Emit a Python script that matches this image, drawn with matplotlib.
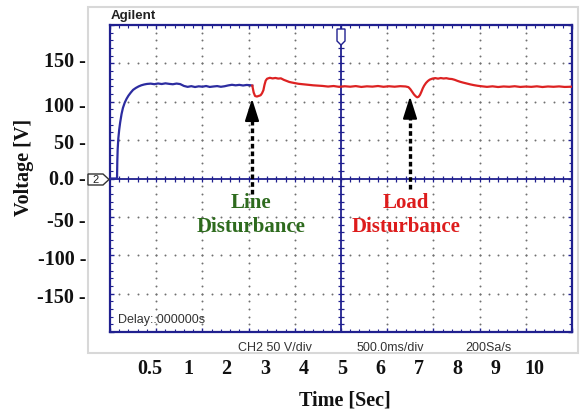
import matplotlib.pyplot as plt
import numpy as np
from matplotlib.patches import Rectangle, Polygon
from matplotlib.transforms import Affine2D

# output voltage trace, time in seconds, volts
blue_t = [0, 0.076, 0.079, 0.083, 0.09, 0.10, 0.11, 0.125, 0.14, 0.16, 0.18, 0.20,
          0.225, 0.25, 0.28, 0.31, 0.34, 0.37, 0.40,
          0.44, 0.48, 0.52, 0.56, 0.60, 0.64, 0.68, 0.72, 0.76,
          0.80, 0.84, 0.88, 0.92, 0.96, 1.00, 1.04, 1.08, 1.12, 1.16, 1.20, 1.24,
          1.28, 1.32, 1.36, 1.40, 1.44, 1.48, 1.52, 1.54]
blue_v = [0, 0, 22, 38, 52, 64, 73, 84, 92, 99, 104, 108,
          112, 115.5, 118, 120, 121.5, 122.5, 123.2,
          123.6, 122.9, 123.8, 123.1, 124.0, 123.3, 122.8, 123.7, 123.0,
          120.6, 119.4, 120.3, 119.2, 120.1, 119.6, 120.5, 119.3, 119.9, 120.4, 119.5, 120.2,
          121.3, 122.1, 121.4, 122.0, 121.2, 121.9, 121.5, 121.0]

red_t = [1.54, 1.555, 1.57, 1.59, 1.61, 1.63, 1.645, 1.66, 1.672, 1.685, 1.70,
         1.73, 1.76, 1.79, 1.82, 1.85, 1.88, 1.91, 1.94, 1.97, 2.00, 2.04, 2.08,
         2.12, 2.16, 2.20, 2.25, 2.30,
         2.36, 2.42, 2.48, 2.54, 2.60, 2.66, 2.72, 2.78, 2.84, 2.90, 2.96, 3.02,
         3.08, 3.14, 3.20,
         3.23, 3.25, 3.27, 3.29, 3.31, 3.325, 3.34, 3.355, 3.37, 3.385, 3.40, 3.42,
         3.44, 3.46, 3.49, 3.52, 3.55, 3.58, 3.61, 3.64, 3.67, 3.70, 3.73, 3.76,
         3.79, 3.82, 3.86, 3.90, 3.94, 3.98, 4.02,
         4.08, 4.14, 4.20, 4.26, 4.32, 4.38, 4.44, 4.50, 4.56, 4.62, 4.68, 4.74,
         4.80, 4.86, 4.92, 5.0]
red_v = [121, 112, 107.5, 106.8, 107.6, 108.5, 111, 115, 122, 127.5, 130,
         131.2, 130.4, 131.0, 130.2, 130.5, 128.6, 127.2, 125.8, 125.0, 124.3, 123.4, 122.9,
         122.4, 121.9, 121.4, 121.0, 120.6,
         119.8, 120.5, 119.4, 120.2, 119.6, 120.4, 119.3, 120.1, 119.7, 120.5, 119.5, 120.2,
         119.6, 120.3, 119.9,
         119.0, 116.5, 113.0, 109.5, 107.0, 105.8, 106.5, 109.0, 113.0, 117.5, 121.0, 124.5,
         127.0, 128.8, 130.2, 130.8, 130.1, 130.9, 130.3, 130.7, 129.9, 129.6, 128.6, 127.2,
         126.0, 125.0, 123.8, 122.6, 121.6, 120.8, 120.2,
         119.4, 120.1, 119.2, 119.9, 119.5, 120.2, 119.3, 119.8, 119.4, 120.1, 119.2, 119.9,
         119.5, 120.0, 119.3, 119.6]

# disturbance arrows: time, tip voltage, tail voltage
line_arrow = (1.537, 104, -20)
load_arrow = (3.247, 107, -14)

ytick_text = ['150', '100', '50', '0.0', '-50', '-100', '-150']
ytick_row = [62, 107, 144, 180, 222, 260, 298]
xtick_text = ['0.5', '1', '2', '3', '4', '5', '6', '7', '8', '9', '10']

W, H = 581, 410
navy = '#20208f'
serif = dict(family='Liberation Serif', weight='bold', size=14.5, color='#111111')
sans = dict(family='Liberation Sans', size=9, color='#333333')

fig = plt.figure(figsize=(W / 100, H / 100), dpi=100)
pix = Affine2D().scale(1 / W, -1 / H).translate(0, 1) + fig.transFigure

# background page with the scope window outline
bg = fig.add_axes([0, 0, 1, 1])
bg.set_xlim(0, W)
bg.set_ylim(H, 0)
bg.axis('off')
bg.add_patch(Rectangle((88, 8), 490, 346, facecolor='white', edgecolor='#d8d8d8', lw=1.5))
bg.text(111, 16, 'Agilent', family='Liberation Sans', weight='bold', size=9.6,
        color='#222222', va='center')
bg.text(238, 348, 'CH2 50 V/div', va='center', **sans)
bg.text(357, 348, '500.0ms/div', va='center', **sans)
bg.text(465, 348, '200Sa/s', va='center', **sans)

for lab, row in zip(ytick_text, ytick_row):
    bg.text(86, row, lab + ' -', ha='right', va='center', **serif)
step = (534 - 149.6) / 10
for i, lab in enumerate(xtick_text):
    bg.text(149.6 + i * step, 369, lab, ha='center', va='center', **serif)
bg.text(344.5, 401, 'Time [Sec]', ha='center', va='center', **serif)
bg.text(24, 167, 'Voltage [V]', ha='center', va='center', rotation=90, **serif)

# scope screen
ax = fig.add_axes([110 / W, 1 - 333 / H, 462 / W, 307 / H])
ax.set_xlim(0, 5)
ax.set_ylim(-200, 200)
for s in ax.spines.values():
    s.set_color(navy)
    s.set_linewidth(1.6)
ax.set_xticks(np.arange(0, 5.01, 0.5))
ax.set_yticks(np.arange(-200, 201, 50))
ax.set_xticks(np.arange(0, 5.01, 0.1), minor=True)
ax.set_yticks(np.arange(-200, 201, 10), minor=True)
ax.tick_params(which='both', direction='in', top=True, right=True, color=navy,
               labelbottom=False, labelleft=False)
ax.tick_params(which='major', length=3.0, width=1)
ax.tick_params(which='minor', length=2.0, width=0.8)

# dotted graticule
gx = np.arange(0.1, 5, 0.1)
gy = np.arange(-190, 200, 10)
for v in [-150, -100, -50, 50, 100, 150]:
    ax.scatter(gx, np.full(gx.size, v), s=2, color='#707070', lw=0, zorder=1)
for t in [0.5, 1, 1.5, 2, 3, 3.5, 4, 4.5]:
    ax.scatter(np.full(gy.size, t), gy, s=2, color='#707070', lw=0, zorder=1)

# center axes with their own small ticks
ax.axhline(0, color=navy, lw=1.3, zorder=2)
ax.axvline(2.5, color=navy, lw=1.3, zorder=2)
ax.plot(gx, np.zeros(gx.size), ls='none', marker='|', ms=4.5, mew=0.9, color=navy, zorder=2)
ax.plot(np.full(gy.size, 2.5), gy, ls='none', marker='_', ms=4.5, mew=0.9, color=navy, zorder=2)

ax.plot(blue_t, blue_v, color='#2c2ca0', lw=1.6, zorder=4)
ax.plot(red_t, red_v, color='#dd2222', lw=1.6, zorder=4)

for t, tip, tail in [line_arrow, load_arrow]:
    ax.plot([t, t], [tail, tip - 20], color='black', lw=2.4, ls=(0, (1.4, 0.9)),
            solid_capstyle='butt', zorder=5)
    ax.annotate('', xy=(t, tip), xytext=(t, tip - 22),
                arrowprops=dict(arrowstyle='-|>,head_length=0.85,head_width=0.27',
                                mutation_scale=16, color='black', lw=1.5, shrinkA=0, shrinkB=0),
                zorder=5)

ax.text(1.53, -46, 'Line\nDisturbance', ha='center', va='center', linespacing=1.3,
        family='Liberation Serif', weight='bold', size=15, color='#2e6b1e', zorder=6)
ax.text(3.2, -46, 'Load\nDisturbance', ha='center', va='center', linespacing=1.3,
        family='Liberation Serif', weight='bold', size=15, color='#dd1c1c', zorder=6)
ax.text(0.09, -183, 'Delay:.000000s', va='center', **sans)

# channel and trigger markers
ax.add_patch(Polygon([(88, 175), (103, 175), (109, 180.5), (103, 186), (88, 186)],
                     closed=True, transform=pix, facecolor='white', edgecolor='#333333',
                     lw=1, clip_on=False, zorder=7))
ax.text(96, 180.5, '2', transform=pix, ha='center', va='center', size=8,
        family='Liberation Sans', color='#222222', clip_on=False, zorder=8)
ax.add_patch(Polygon([(337, 30), (345, 30), (345, 42), (341, 46), (337, 42)],
                     closed=True, transform=pix, facecolor='white', edgecolor=navy,
                     lw=1, clip_on=False, zorder=7))

fig.savefig('out.png', dpi=100)
